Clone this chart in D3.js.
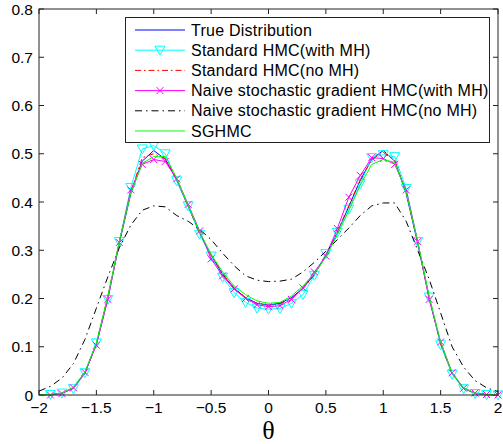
<!DOCTYPE html>
<html><head><meta charset="utf-8">
<script src="https://cdn.jsdelivr.net/npm/d3@7"></script>
<style>body{margin:0;background:#fff}svg{display:block}</style>
</head><body>
<script>
const thetaFull = [-2.0,-1.9,-1.8,-1.7,-1.6,-1.5,-1.4,-1.3,-1.2,-1.1,-1.0,-0.9,-0.8,-0.7,-0.6,-0.5,-0.4,-0.3,-0.2,-0.1,0,0.1,0.2,0.3,0.4,0.5,0.6,0.7,0.8,0.9,1.0,1.1,1.2,1.3,1.4,1.5,1.6,1.7,1.8,1.9,2.0];
const trueDist = [0.0001,0.0006,0.0034,0.0142,0.0444,0.1062,0.2016,0.3147,0.4175,0.4848,0.5067,0.4887,0.4451,0.3906,0.3364,0.2887,0.2502,0.2214,0.2016,0.1901,0.1864,0.1901,0.2016,0.2214,0.2502,0.2887,0.3364,0.3906,0.4451,0.4887,0.5067,0.4848,0.4175,0.3147,0.2016,0.1062,0.0444,0.0142,0.0034,0.0006,0.0001];
const hmcNoMH = [0.000,0.001,0.004,0.015,0.046,0.106,0.205,0.318,0.420,0.492,0.500,0.490,0.448,0.392,0.335,0.290,0.252,0.222,0.202,0.190,0.186,0.189,0.200,0.220,0.249,0.290,0.338,0.392,0.446,0.488,0.503,0.486,0.420,0.316,0.202,0.106,0.045,0.014,0.004,0.001,0.000];
const naiveNoMH = [0.008,0.018,0.035,0.065,0.115,0.180,0.245,0.305,0.352,0.383,0.392,0.390,0.372,0.360,0.343,0.322,0.294,0.268,0.247,0.238,0.235,0.236,0.240,0.255,0.275,0.298,0.322,0.346,0.372,0.392,0.398,0.398,0.360,0.300,0.240,0.170,0.100,0.058,0.030,0.015,0.007];
const sghmc = [0.000,0.001,0.004,0.016,0.048,0.108,0.205,0.318,0.418,0.480,0.494,0.494,0.450,0.393,0.338,0.292,0.255,0.226,0.208,0.195,0.190,0.192,0.205,0.226,0.252,0.286,0.332,0.382,0.435,0.478,0.488,0.482,0.420,0.318,0.205,0.110,0.046,0.015,0.004,0.001,0.000];
const thetaSamp = [-1.9,-1.8,-1.7,-1.6,-1.5,-1.4,-1.3,-1.2,-1.1,-1.0,-0.9,-0.8,-0.7,-0.6,-0.5,-0.4,-0.3,-0.2,-0.1,0,0.1,0.2,0.3,0.4,0.5,0.6,0.7,0.8,0.9,1.0,1.1,1.2,1.3,1.4,1.5,1.6,1.7,1.8,1.9,2.0];
const hmcMH = [0.001,0.004,0.013,0.046,0.108,0.198,0.318,0.430,0.510,0.517,0.500,0.444,0.392,0.333,0.288,0.244,0.212,0.192,0.180,0.178,0.179,0.190,0.208,0.248,0.293,0.337,0.385,0.438,0.492,0.498,0.494,0.428,0.318,0.203,0.104,0.043,0.013,0.003,0.001,0.000];
const naiveMH = [0.000,0.003,0.015,0.047,0.103,0.198,0.316,0.425,0.478,0.488,0.484,0.448,0.395,0.340,0.282,0.247,0.220,0.200,0.187,0.183,0.185,0.198,0.222,0.255,0.288,0.345,0.410,0.455,0.492,0.490,0.478,0.425,0.318,0.198,0.110,0.046,0.014,0.004,0.001,0.000];
const xTicks = [-2,-1.5,-1,-0.5,0,0.5,1,1.5,2];
const yTicks = [0,0.1,0.2,0.3,0.4,0.5,0.6,0.7,0.8];
const legendLabels = ["True Distribution","Standard HMC(with MH)","Standard HMC(no MH)","Naive stochastic gradient HMC(with MH)","Naive stochastic gradient HMC(no MH)","SGHMC"];

const W=503,H=444;
const x = d3.scaleLinear().domain([-2,2]).range([39,498]);
const y = d3.scaleLinear().domain([0,0.8]).range([395,9]);
const svg = d3.select("body").append("svg").attr("width",W).attr("height",H);
const font = "'Liberation Sans', Arial, Helvetica, sans-serif";
const fmt = v => (v<0?"\u2212":"") + String(Math.abs(v));

const g = svg.append("g");
xTicks.forEach(t=>{
  g.append("line").attr("x1",x(t)).attr("x2",x(t)).attr("y1",y(0)).attr("y2",y(0)-5).attr("stroke","#222");
  g.append("line").attr("x1",x(t)).attr("x2",x(t)).attr("y1",y(0.8)).attr("y2",y(0.8)+5).attr("stroke","#222");
  g.append("text").attr("x",x(t)).attr("y",412.5).attr("text-anchor","middle").attr("font-family",font).attr("font-size",15.5).text(fmt(t));
});
yTicks.forEach(t=>{
  g.append("line").attr("x1",x(-2)).attr("x2",x(-2)+5).attr("y1",y(t)).attr("y2",y(t)).attr("stroke","#222");
  g.append("line").attr("x1",x(2)).attr("x2",x(2)-5).attr("y1",y(t)).attr("y2",y(t)).attr("stroke","#222");
  g.append("text").attr("x",33).attr("y",y(t)+5.5).attr("text-anchor","end").attr("font-family",font).attr("font-size",15.5).text(String(t));
});

const series = [
  {xs:thetaFull, ys:trueDist, color:"#0000ff", dash:null, marker:null},
  {xs:thetaSamp, ys:hmcMH, color:"#00ffff", dash:null, marker:"v"},
  {xs:thetaFull, ys:hmcNoMH, color:"#ff0000", dash:"6,3,1.5,3", marker:null},
  {xs:thetaSamp, ys:naiveMH, color:"#ff00ff", dash:null, marker:"x"},
  {xs:thetaFull, ys:naiveNoMH, color:"#000000", dash:"7,4,1.5,4", marker:null},
  {xs:thetaFull, ys:sghmc, color:"#00ff00", dash:null, marker:null}
];
const line = d3.line().x(d=>x(d[0])).y(d=>y(d[1]));
function drawMarker(sel, type, cx, cy, color){
  if(type==="v"){
    sel.append("path").attr("d",`M${cx-5},${cy-4}L${cx+5},${cy-4}L${cx},${cy+5}Z`).attr("fill","none").attr("stroke",color).attr("stroke-width",1);
  } else if(type==="x"){
    sel.append("path").attr("d",`M${cx-3.5},${cy-3.5}L${cx+3.5},${cy+3.5}M${cx-3.5},${cy+3.5}L${cx+3.5},${cy-3.5}`).attr("stroke",color).attr("stroke-width",1);
  }
}
series.forEach(s=>{
  const pts = s.xs.map((v,i)=>[v,s.ys[i]]);
  const p = svg.append("path").attr("d",line(pts)).attr("fill","none").attr("stroke",s.color).attr("stroke-width",1);
  if(s.dash) p.attr("stroke-dasharray",s.dash);
  if(s.marker){ const mg=svg.append("g"); pts.forEach(d=>drawMarker(mg,s.marker,x(d[0]),y(d[1]),s.color)); }
});

svg.append("rect").attr("x",x(-2)).attr("y",y(0.8)).attr("width",x(2)-x(-2)).attr("height",y(0)-y(0.8)).attr("fill","none").attr("stroke","#222").attr("stroke-width",1);

const lg = svg.append("g");
lg.append("rect").attr("x",125.5).attr("y",17.5).attr("width",364).attr("height",125).attr("fill","#fff").attr("stroke","#222").attr("stroke-width",1);
legendLabels.forEach((lab,i)=>{
  const s = series[i], ly = 30 + i*20.2;
  const l = lg.append("line").attr("x1",135).attr("x2",185).attr("y1",ly).attr("y2",ly).attr("stroke",s.color).attr("stroke-width",1);
  if(s.dash) l.attr("stroke-dasharray",s.dash);
  if(s.marker) drawMarker(lg,s.marker,160,ly,s.color);
  lg.append("text").attr("x",191).attr("y",ly+5.5).attr("font-family",font).attr("font-size",16).attr("letter-spacing",0.25).text(lab);
});

svg.append("text").attr("x",x(0)).attr("y",438.5).attr("text-anchor","middle").attr("font-family","'Liberation Serif','Times New Roman',serif").attr("font-size",26).text("\u03B8");
</script>
</body></html>
